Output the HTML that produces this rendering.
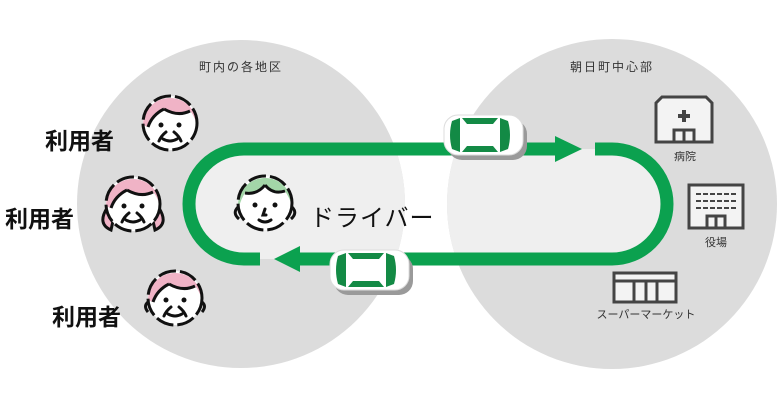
<!DOCTYPE html>
<html><head><meta charset="utf-8"><style>
html,body{margin:0;padding:0;background:#fff;width:784px;height:400px;overflow:hidden}
svg{display:block}
text{font-family:"Liberation Sans","Noto Sans CJK JP",sans-serif}
</style></head><body>
<svg width="784" height="400" viewBox="0 0 784 400" xmlns="http://www.w3.org/2000/svg">
<defs>
<clipPath id="lc"><circle cx="241" cy="204" r="164"/></clipPath>
<clipPath id="rc"><circle cx="612" cy="204" r="165"/></clipPath>
<g id="car">
  <rect x="4" y="5" width="79" height="40" rx="14" fill="#9a9a9a"/>
  <rect x="0" y="0" width="79" height="40" rx="14" fill="#fff" stroke="#ddd" stroke-width="1"/>
  <path d="M8 6 L16 3 L16 37 L8 34 Q4 20 8 6Z" fill="#138a45"/>
  <path d="M56 3 L64 6 Q68 20 64 34 L56 37Z" fill="#138a45"/>
  <path d="M18 3 L54 3 L49 9 L23 9Z" fill="#138a45"/>
  <path d="M18 37 L54 37 L49 31 L23 31Z" fill="#138a45"/>
</g>
<g id="old">
  <circle cx="0" cy="0" r="27" fill="#fff"/>
  <path d="M-27 2 A27 27 0 0 1 27 2 Q24 -8 20 -12 Q8 -6 -6 -14 Q-18 -8 -22 4 Z" fill="#f0b3c6"/>
  <circle cx="0" cy="0" r="27" fill="none" stroke="#111" stroke-width="3" stroke-dasharray="18 4"/>
  <path d="M-6 -14 Q8 -6 20 -12 M-6 -14 Q-18 -8 -22 4" fill="none" stroke="#111" stroke-width="3"/>
  <circle cx="-9" cy="2" r="2.5" fill="#111"/><circle cx="9" cy="2" r="2.5" fill="#111"/>
  <path d="M-4 9 Q-9 13 -11 18 M4 9 Q9 13 11 18 M-7 16 Q0 20 7 16" fill="none" stroke="#111" stroke-width="3" stroke-linecap="round"/>
</g>
</defs>
<circle cx="241" cy="204" r="164" fill="#dcdcdc"/>
<circle cx="612" cy="204" r="165" fill="#dcdcdc"/>
<g clip-path="url(#lc)"><rect x="189" y="149" width="440" height="110" rx="55" fill="#efefef"/></g>
<g clip-path="url(#rc)"><rect x="200" y="149" width="467" height="110" rx="55" fill="#efefef"/></g>

<text x="241" y="71" font-size="12" text-anchor="middle" fill="#333" letter-spacing="2">町内の各地区</text>
<text x="612" y="71" font-size="12" text-anchor="middle" fill="#333" letter-spacing="2">朝日町中心部</text>

<g fill="none" stroke="#0ba14f" stroke-width="13">
  <path d="M260 259 L244 259 A55 55 0 0 1 244 149 L560 149"/>
  <path d="M595 149 L612 149 A55 55 0 0 1 612 259 L296 259"/>
</g>
<polygon points="582,149 555,136 555,162" fill="#0ba14f"/>
<polygon points="274,259 300,246 300,272" fill="#0ba14f"/>

<use href="#car" x="444" y="115"/>
<use href="#car" x="330" y="250"/>

<use href="#old" x="170" y="123"/>
<g transform="translate(133,204)">
  <path d="M-26 4 Q-36 20 -22 26 L-18 8Z M26 4 Q36 20 22 26 L18 8Z" fill="#f0b3c6" stroke="#111" stroke-width="3"/>
</g>
<use href="#old" x="133" y="204"/>
<g transform="translate(175,298)">
  <path d="M-27 4 Q-32 8 -27 14 M27 4 Q32 8 27 14" fill="none" stroke="#111" stroke-width="3"/>
</g>
<use href="#old" x="175" y="298"/>

<!-- driver -->
<g transform="translate(265,203)">
  <path d="M-27 4 Q-33 10 -26 16 M27 4 Q33 10 26 16" fill="none" stroke="#111" stroke-width="3"/>
  <circle cx="0" cy="0" r="27" fill="#fff"/>
  <path d="M-27 2 A27 27 0 0 1 27 2 Q24 -6 20 -12 Q8 -8 0 -18 Q-8 -8 -20 -10 Q-24 -4 -26 4 Z" fill="#a3d6a8"/>
  <circle cx="0" cy="0" r="27" fill="none" stroke="#111" stroke-width="3" stroke-dasharray="18 4"/>
  <path d="M0 -18 Q8 -8 20 -12 M0 -18 Q-8 -8 -20 -10" fill="none" stroke="#111" stroke-width="3"/>
  <circle cx="-10" cy="2" r="2.5" fill="#111"/><circle cx="10" cy="2" r="2.5" fill="#111"/>
  <path d="M0 6 L-2 12 L1 12 M-6 17 Q0 21 6 17" fill="none" stroke="#111" stroke-width="3" stroke-linecap="round"/>
</g>

<g font-size="23" fill="#111" font-weight="bold">
  <text x="45" y="149">利用者</text>
  <text x="5" y="227">利用者</text>
  <text x="52" y="325">利用者</text>
</g>
<text x="310" y="226" font-size="24" fill="#111" letter-spacing="1">ドライバー</text>

<g stroke="#444" stroke-width="3" fill="#f3f3f3">
  <path d="M656 142 L656 103 L662 97 L706 97 L712 103 L712 142Z"/>
  <path d="M674 142 L674 130 L694 130 L694 142" fill="none"/>
  <line x1="684" y1="130" x2="684" y2="142"/>
  <rect x="689" y="185" width="54" height="43"/>
  <path d="M707 228 L707 216 L725 216 L725 228" fill="none"/>
  <line x1="716" y1="216" x2="716" y2="228"/>
  <rect x="614" y="273" width="62" height="29"/>
  <line x1="614" y1="281" x2="676" y2="281"/>
  <line x1="634" y1="281" x2="634" y2="302"/>
  <line x1="646" y1="281" x2="646" y2="302"/>
  <line x1="657" y1="281" x2="657" y2="302"/>
</g>
<path d="M682 110 h4 v4 h4 v4 h-4 v4 h-4 v-4 h-4 v-4 h4z" fill="#444"/>
<g stroke="#444" stroke-width="2" stroke-dasharray="5 2">
  <line x1="696" y1="194" x2="736" y2="194"/>
  <line x1="696" y1="201" x2="736" y2="201"/>
  <line x1="696" y1="208" x2="736" y2="208"/>
</g>
<g font-size="11" fill="#333" text-anchor="middle">
  <text x="685" y="160">病院</text>
  <text x="716" y="246">役場</text>
  <text x="646" y="318">スーパーマーケット</text>
</g>
</svg>
</body></html>
